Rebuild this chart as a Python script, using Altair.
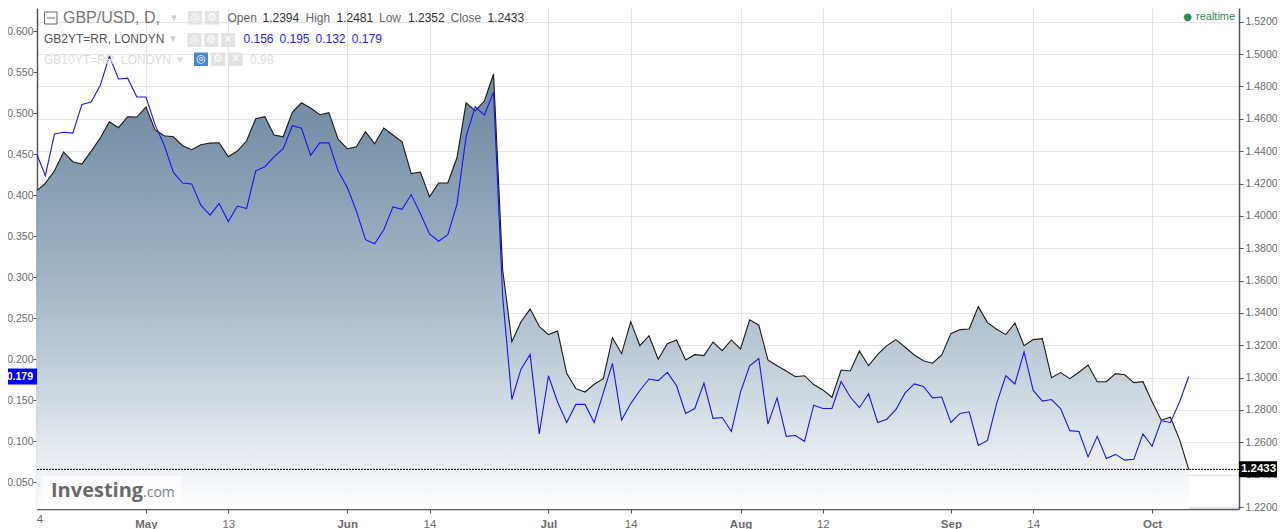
import altair as alt
import pandas as pd

gbpusd = [
1.4152,1.4201,1.4279,1.4395,1.4335,1.4320,1.4399,1.4481,1.4582,1.4545,1.4613,1.4611,1.4673,1.4531,1.4495,1.4489,
1.4434,1.4409,1.4440,1.4450,1.4452,1.4366,1.4401,1.4464,1.4600,1.4613,1.4500,1.4489,1.4640,1.4699,1.4667,1.4625,
1.4638,1.4475,1.4415,1.4427,1.4520,1.4446,1.4543,1.4500,1.4458,1.4261,1.4271,1.4118,1.4203,1.4203,1.4359,1.4699,
1.4650,1.4710,1.4877,1.3665,1.3222,1.3346,1.3424,1.3317,1.3266,1.3288,1.3027,1.2932,1.2911,1.2959,1.2994,1.3247,
1.3148,1.3346,1.3198,1.3259,1.3114,1.3210,1.3233,1.3109,1.3142,1.3136,1.3220,1.3167,1.3233,1.3177,1.3358,1.3325,
1.3109,1.3074,1.3041,1.3006,1.3012,1.2957,1.2924,1.2879,1.3047,1.3041,1.3165,1.3074,1.3144,1.3198,1.3235,1.3188,
1.3140,1.3105,1.3089,1.3140,1.3272,1.3297,1.3301,1.3439,1.3340,1.3299,1.3266,1.3338,1.3198,1.3235,1.3241,1.3000,
1.3031,1.2994,1.3033,1.3078,1.2975,1.2975,1.3025,1.3018,1.2969,1.2975,1.2851,1.2737,1.2755,1.2617,1.2433]
gb2yt = [
.452,.424,.475,.477,.476,.511,.514,.534,.570,.542,.543,.520,.520,.486,.461,.428,
.415,.414,.388,.376,.390,.368,.387,.384,.430,.435,.447,.457,.485,.482,.449,.464,
.464,.430,.410,.381,.346,.341,.358,.386,.383,.401,.378,.353,.344,.352,.389,.472,
.508,.498,.526,.276,.151,.188,.206,.109,.180,.148,.123,.145,.145,.123,.159,.195,
.126,.146,.162,.176,.174,.184,.168,.134,.140,.171,.128,.129,.112,.160,.192,.201,
.121,.153,.106,.107,.100,.144,.140,.140,.173,.154,.141,.158,.123,.127,.139,.159,
.170,.167,.153,.154,.123,.134,.136,.095,.101,.146,.180,.170,.209,.162,.149,.151,
.140,.113,.112,.081,.106,.079,.084,.077,.078,.109,.094,.125,.123,.148,.179]
tick_idx = [12,21,34,43,56,65,77,86,100,109,122]
tick_labels = ["May","13","Jun","14","Jul","14","Aug","12","Sep","14","Oct"]
left_ticks = [.05,.10,.15,.20,.25,.30,.35,.40,.45,.50,.55,.60]
right_ticks = [1.22,1.24,1.26,1.28,1.30,1.32,1.34,1.36,1.38,1.40,1.42,1.44,1.46,1.48,1.50,1.52]
last_price = 1.2433
last_yield = 0.179
price_floor = 1.2188

df = pd.DataFrame({"i": list(range(len(gbpusd))), "price": gbpusd, "yld": gb2yt, "floor": price_floor})
X0, Y0 = 37, 8          # page position of the plot origin
W, H = 1202, 501

label_expr = "%s[indexof(%s, datum.value)]" % (tick_labels, tick_idx)
xscale = alt.Scale(domain=[0.087, 131.5], nice=False, zero=False)
yr = alt.Scale(domain=[price_floor, 1.5285], nice=False, zero=False)
yl = alt.Scale(domain=[0.0174, 0.6286], nice=False, zero=False)
AX = "#555555"; LB = "#6b6b6b"; FONT = "Liberation Sans"

xaxis = alt.Axis(values=tick_idx, labelExpr=label_expr, title=None, grid=True, gridColor="#e6e6e6",
                 domainColor=AX, domainWidth=1.5, tickColor=AX, tickSize=4, labelColor=LB, labelFontSize=11.5,
                 labelFont=FONT, labelPadding=5, labelFlush=False, labelOverlap=False, tickCount=40,
                 labelFontWeight={"expr": "indexof([12,34,56,77,100,122], datum.value) >= 0 ? 'bold' : 'normal'"})
raxis = alt.Axis(values=right_ticks, format=".4f", orient="right", title=None, grid=True, gridColor="#e6e6e6",
                 domainColor=AX, domainWidth=1.5, tickColor=AX, tickSize=4, labelColor=LB, labelFontSize=10.5,
                 labelFont=FONT, labelPadding=2, labelOverlap=False, labelFlush=False, tickCount=40)
laxis = alt.Axis(values=left_ticks, format=".3f", orient="left", title=None, grid=False,
                 domainColor=AX, domainWidth=1.5, tickColor=AX, tickSize=4, labelColor=LB, labelFontSize=10.5,
                 labelFont=FONT, labelPadding=0, labelOverlap=False, labelFlush=False, tickCount=40)

grad = alt.Gradient(gradient="linear", x1=1, x2=1, y1=1, y2=0, stops=[
    alt.GradientStop(color="#ffffff", offset=0), alt.GradientStop(color="#eef1f5", offset=.088),
    alt.GradientStop(color="#b5c4d1", offset=.387), alt.GradientStop(color="#9cb0c2", offset=.55),
    alt.GradientStop(color="#708ba3", offset=.894), alt.GradientStop(color="#6b879f", offset=1)])

base = alt.Chart(df)
area = base.mark_area(color=grad, line=False, opacity=.96).encode(
    x=alt.X("i:Q", scale=xscale, axis=xaxis), y=alt.Y("price:Q", scale=yr, axis=raxis), y2=alt.Y2("floor:Q"))
black = base.mark_line(color="#1a1a1a", strokeWidth=1.1, clip=True).encode(
    x=alt.X("i:Q", scale=xscale), y=alt.Y("price:Q", scale=yr))
lastdf = pd.DataFrame({"price": [last_price], "yld": [last_yield], "pt": ["%.4f" % last_price], "yt": ["%.3f" % last_yield]})
dotted = alt.Chart(lastdf).mark_rule(color="#000000", strokeDash=[2, 1], strokeWidth=1).encode(
    y=alt.Y("price:Q", scale=yr))
ptag = alt.Chart(lastdf).mark_rect(color="#000000", width=38, height=16).encode(
    x=alt.value(W + 19), y=alt.Y("price:Q", scale=yr))
ptxt = alt.Chart(lastdf).mark_text(color="#ffffff", fontWeight="bold", fontSize=11.5, font=FONT, align="center", baseline="middle").encode(
    x=alt.value(W + 19.5), y=alt.Y("price:Q", scale=yr), text="pt:N")
right = alt.layer(area, black, dotted, ptag, ptxt)

blue = base.mark_line(color="#1414ff", strokeWidth=1.1, clip=True).encode(
    x=alt.X("i:Q", scale=xscale), y=alt.Y("yld:Q", scale=yl, axis=laxis))
ytag = alt.Chart(lastdf).mark_rect(color="#0000ff", width=29, height=16).encode(
    x=alt.value(-14.5), y=alt.Y("yld:Q", scale=yl))
ytxt = alt.Chart(lastdf).mark_text(color="#ffffff", fontWeight="bold", fontSize=10.5, font=FONT, align="right", baseline="middle").encode(
    x=alt.value(-4), y=alt.Y("yld:Q", scale=yl), text="yt:N")
left = alt.layer(blue, ytag, ytxt)

empty = alt.Data(values=[{}])
def txt(s, x, y, size=12, color="#666666", weight="normal", font=FONT, align="left", **kw):
    return alt.Chart(empty).mark_text(text=s, fontSize=size, color=color, fontWeight=weight, font=font,
                                      align=align, baseline="middle", **kw).encode(
        x=alt.value(x - X0), y=alt.value(y - Y0))
def box(x0, x1, y0, y1, fill, **kw):
    return alt.Chart(empty).mark_rect(color=fill, **kw).encode(
        x=alt.value(x0 - X0), x2=alt.value(x1 - X0), y=alt.value(y0 - Y0), y2=alt.value(y1 - Y0))
def icons(xs, y0, y1, first_blue=False):
    out = []
    for k, (x, g) in enumerate(xs):
        fill = "#4a86d8" if (first_blue and k == 0) else "#e3e3e3"
        out.append(box(x, x + 14, y0, y1, fill))
        out.append(txt(g, x + 7, (y0 + y1) / 2, size=11, color="#ffffff", font="DejaVu Sans", align="center"))
    return out

anno = [
    box(43, 181, 476, 507, "#ffffff", opacity=.75),
    txt("Investing", 51, 491, size=20, color="#6a6a6a", weight="bold", font="Open Sans"),
    txt(".com", 143, 493, size=14, color="#808080", font="Open Sans"),
    box(44.5, 57, 12, 24, "#ffffff", stroke="#666666", strokeWidth=1),
    box(47, 55, 17.5, 18.5, "#666666"),
    txt("GBP/USD, D,", 63, 18, size=16, color="#777777"),
    txt("▾", 174, 18, size=11, color="#cccccc", font="DejaVu Sans", align="center"),
    txt("GB2YT=RR, LONDYN", 44, 38.5, size=12, color="#555555"),
    txt("▾", 173, 38.5, size=11, color="#cccccc", font="DejaVu Sans", align="center"),
    txt("GB10YT=RR, LONDYN", 44, 59.5, size=12, color="#dddddd"),
    txt("▾", 180, 59.5, size=11, color="#dddddd", font="DejaVu Sans", align="center"),
    txt("0.98", 250, 59.5, size=12, color="#dddddd"),
]
anno += icons([(188, "◎"), (205, "⚙")], 11, 24.5)
anno += icons([(187.5, "◎"), (204, "⚙"), (221, "✕")], 33, 47)
anno += icons([(194, "◎"), (211, "⚙"), (228.5, "✕")], 52.5, 66, first_blue=True)
for s, x, c in [("Open", 227.5, "#666666"), ("1.2394", 262.5, "#333333"), ("High", 305.5, "#666666"), ("1.2481", 336.5, "#333333"),
                ("Low", 379, "#666666"), ("1.2352", 408, "#333333"), ("Close", 450.5, "#666666"), ("1.2433", 487.5, "#333333")]:
    anno.append(txt(s, x, 18, size=12, color=c))
for s, x in [("0.156", 243.5), ("0.195", 279.5), ("0.132", 315.5), ("0.179", 351.8)]:
    anno.append(txt(s, x, 38.5, size=12, color="#2222ff"))
anno.append(txt("●", 1187.7, 16.5, size=10, color="#2e8b57", font="DejaVu Sans", align="center"))
anno.append(txt("realtime", 1196, 16.5, size=11, color="#2e8b57"))
anno.append(txt("4", 40, 520, size=11.5, color=LB, align="center"))

chart = alt.layer(right, left, alt.layer(*anno)).resolve_scale(y="independent").properties(
    width=W, height=H, padding={"left": X0 - 8, "top": 0, "right": 38, "bottom": 20},
    autosize=alt.AutoSizeParams(type="none"),
    background="#ffffff",
).configure_view(stroke=None)

chart.save("out.html", embed_options={"renderer": "svg", "actions": False})
